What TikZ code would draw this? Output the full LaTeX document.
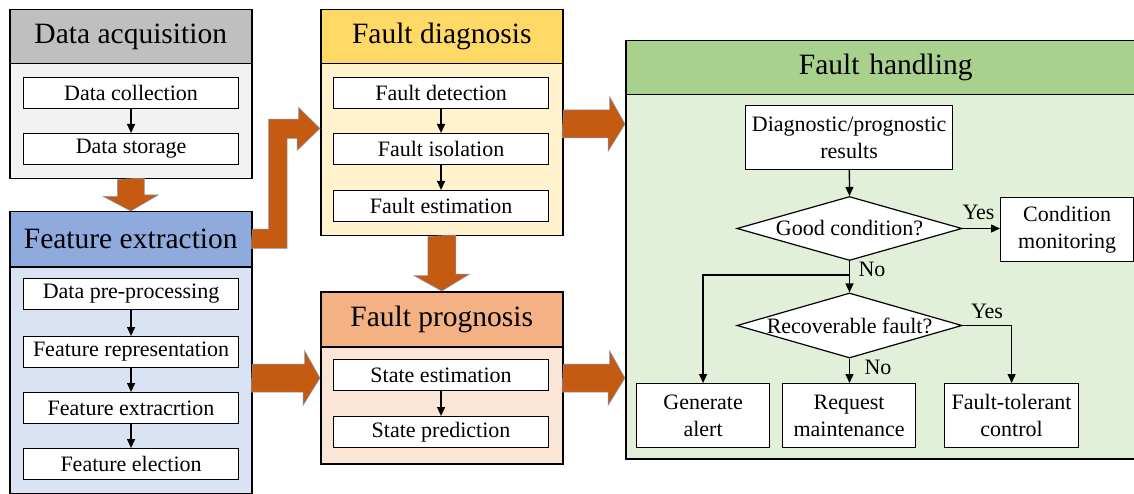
\documentclass[tikz,border=0pt]{standalone}
\usepackage{fontspec}
\setmainfont{Liberation Serif}
\usetikzlibrary{arrows.meta,shapes.geometric,calc}
\definecolor{cDAh}{HTML}{BFBFBF}
\definecolor{cDAb}{HTML}{F2F2F2}
\definecolor{cFEh}{HTML}{8FAADC}
\definecolor{cFEb}{HTML}{DAE3F3}
\definecolor{cFDh}{HTML}{FFD966}
\definecolor{cFDb}{HTML}{FFF2CC}
\definecolor{cFPh}{HTML}{F4B183}
\definecolor{cFPb}{HTML}{FBE5D6}
\definecolor{cFHh}{HTML}{A9D18E}
\definecolor{cFHb}{HTML}{E2F0D9}
\definecolor{cOr}{HTML}{C55A11}
\definecolor{cOl}{HTML}{7F9CC6}
\begin{document}
\begin{tikzpicture}[x=1pt,y=-1pt,
 every node/.style={font=\fontsize{22}{27}\selectfont},
 hdr/.style={draw, line width=1.5pt, anchor=north west, minimum width=242, inner sep=0, font=\fontsize{29.5}{32}\selectfont},
 grp/.style={draw, line width=1.5pt, anchor=north west, minimum width=242, inner sep=0},
 sub/.style={draw, line width=1.1pt, fill=white, anchor=north west, minimum width=215, minimum height=31, inner sep=0},
 fbox/.style={draw, line width=1.2pt, fill=white, anchor=north west, minimum width=133, minimum height=64, inner sep=0, align=center},
 dia/.style={diamond, draw, line width=1.2pt, fill=white, minimum width=225, minimum height=64, inner sep=0},
 sarrow/.style={-{Triangle[length=9pt,width=8pt]}, line width=1.3pt},
 barrow/.style={fill=cOr, draw=cOl, line width=0.5pt},
 lbl/.style={inner sep=0}
]
\useasboundingbox (0,0) rectangle (1134,494);
\clip (0,0) rectangle (1134,494);
\fill[white] (0,0) rectangle (1134,494);

% Data acquisition
\node[grp, fill=cDAb, minimum height=115] (daB) at (9,63) {};
\node[hdr, fill=cDAh, minimum height=54] (daH) at (9,9) {Data acquisition};
\node[sub] (dc) at (23,77) {Data collection};
\node[sub] (ds) at (23,133) {Data storage};
\draw[sarrow] (dc) -- (ds);

% Feature extraction
\node[grp, fill=cFEb, minimum height=227] (feB) at (9,266) {};
\node[hdr, fill=cFEh, minimum height=55] (feH) at (9,211) {Feature extraction};
\node[sub] (pp) at (23,278) {Data pre-processing};
\node[sub] (fr) at (23,336) {Feature representation};
\node[sub] (fx) at (23,392) {Feature extracrtion};
\node[sub] (fs) at (23,448) {Feature election};
\draw[sarrow] (pp) -- (fr);
\draw[sarrow] (fr) -- (fx);
\draw[sarrow] (fx) -- (fs);

% Fault diagnosis
\node[grp, fill=cFDb, minimum height=172] (fdB) at (320,63) {};
\node[hdr, fill=cFDh, minimum height=54] (fdH) at (320,9) {Fault diagnosis};
\node[sub] (det) at (333,77) {Fault detection};
\node[sub] (iso) at (333,133) {Fault isolation};
\node[sub] (est) at (333,190) {Fault estimation};
\draw[sarrow] (det) -- (iso);
\draw[sarrow] (iso) -- (est);

% Fault prognosis
\node[grp, fill=cFPb, minimum height=117] (fpB) at (320,346) {};
\node[hdr, fill=cFPh, minimum height=55] (fpH) at (320,291) {Fault prognosis};
\node[sub] (se) at (333,359) {State estimation};
\node[sub] (sp) at (333,416) {State prediction};
\draw[sarrow] (se) -- (sp);

% Fault handling
\node[grp, fill=cFHb, minimum width=540, minimum height=364] (fhB) at (625,94) {};
\node[hdr, fill=cFHh, minimum width=540, minimum height=54, text width=520, align=center] (fhH) at (625,40) {\hspace*{-20pt}Fault handling};
\node[fbox, minimum width=207] (dr) at (745,105) {Diagnostic/prognostic\\results};
\node[dia] (gc) at (849.5,228.5) {};
\node[lbl] (gct) at (gc) {Good condition?};
\node[fbox] (cm) at (1000,197) {Condition\\monitoring};
\node[dia, minimum height=65] (rf) at (849.5,325.5) {};
\node[lbl] (rft) at (rf) {Recoverable fault?};
\node[fbox] (ga) at (636,383) {Generate\\alert};
\node[fbox] (rm) at (782,383) {Request\\maintenance};
\node[fbox, minimum width=134] (ft) at (944,383) {Fault-tolerant\\control};
\coordinate (br) at (849.5,275);
\draw[sarrow] (dr) -- (gc.north);
\draw[sarrow] (gc.east) -- (gc.east -| cm.west);
\draw[sarrow] (gc.south) -- (rf.north);
\draw[sarrow] (br) -| (ga.north);
\draw[sarrow] (rf.south) -- (rf.south |- rm.north);
\draw[sarrow] (rf.east) -| (ft.north);
\node[lbl] (y1) at (978.5,212) {Yes};
\node[lbl] (n1) at (872,269) {No};
\node[lbl] (y2) at (987,311) {Yes};
\node[lbl] (n2) at (878,367) {No};

% Block arrows
\coordinate (t1) at (625,124);
\coordinate (t2) at (625,378);
\coordinate (t3) at (320,378);
% DA -> FE
\filldraw[barrow] ([xshift=-13.5pt]daB.south) -- ++(0,17) -- ++(-14,0) -- (feH.north) -- ++(27.5,-16) -- ++(-14,0) -- ++(0,-17) -- cycle;
% FD -> FP
\filldraw[barrow] ([xshift=-14pt]fdB.south) -- ++(0,39) -- ++(-14,0) -- (fpH.north) -- ++(28,-17) -- ++(-14,0) -- ++(0,-39) -- cycle;
% FE -> FD (bent)
\filldraw[barrow] ([yshift=10pt]feH.east) -- ++(16,0) -- ++(0,-110) -- ++(30,0) -- ++(0,-12) -- (fdB.west |- 0,128.5) -- ++(-23,22) -- ++(0,-12) -- ++(-10,0) -- ++(0,110) -- ++(-36,0) -- cycle;
% FD -> FH
\filldraw[barrow] ($(fdB.east |- t1)+(0,-14)$) -- ++(46,0) -- ++(0,-13.5) -- (t1) -- ++(-17,27.5) -- ++(0,-13.5) -- ++(-46,0) -- cycle;
% FP -> FH
\filldraw[barrow] ($(fpB.east |- t2)+(0,-14)$) -- ++(46,0) -- ++(0,-13.5) -- (t2) -- ++(-17,27.5) -- ++(0,-13.5) -- ++(-46,0) -- cycle;
% FE -> FP
\filldraw[barrow] ($(feB.east |- t3)+(0,-14)$) -- ++(52,0) -- ++(0,-13.5) -- (t3) -- ++(-17,27.5) -- ++(0,-13.5) -- ++(-52,0) -- cycle;
\end{tikzpicture}
\end{document}
